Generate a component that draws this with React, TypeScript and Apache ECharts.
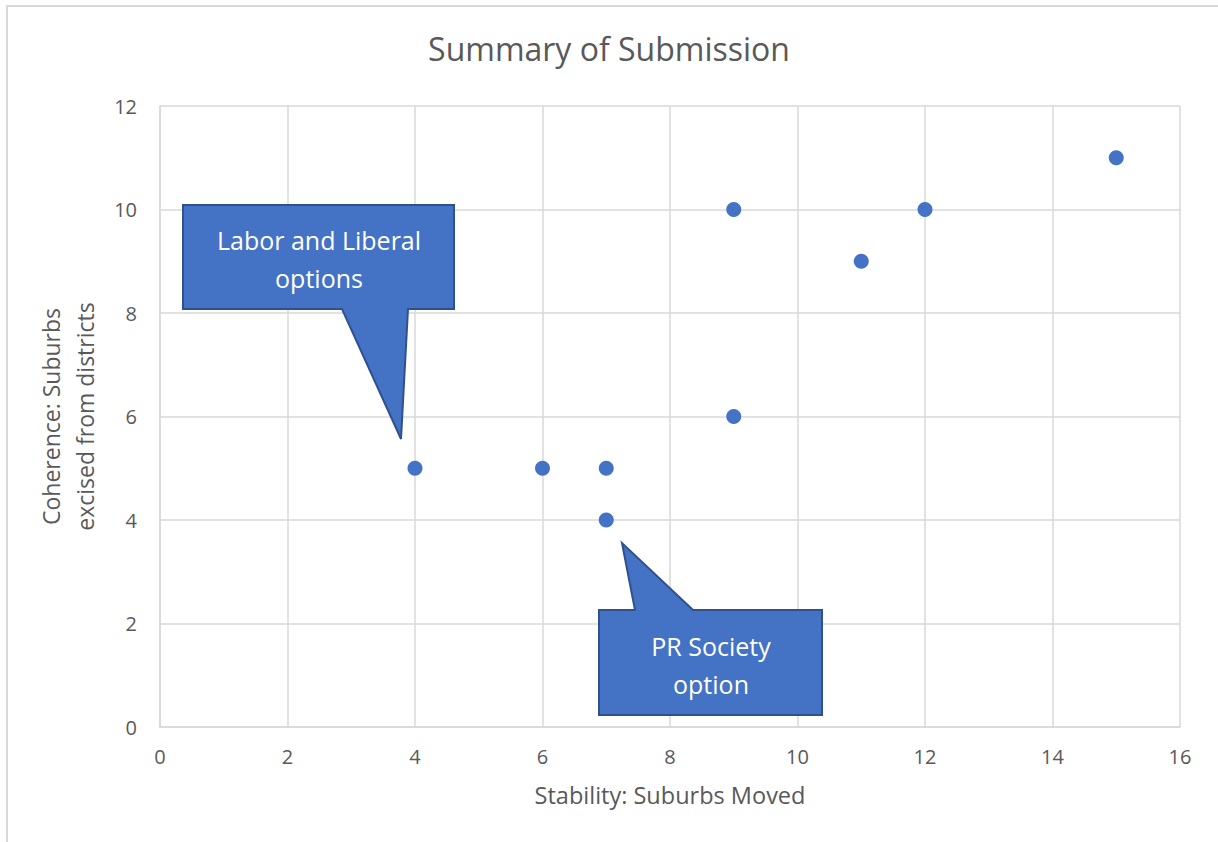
import React, { useEffect, useRef } from "react";
import * as echarts from "echarts";

const xValues = [4, 6, 7, 7, 9, 9, 11, 12, 15];
const yValues = [5, 5, 5, 4, 6, 10, 9, 10, 11];
const xTicks = { min: 0, max: 16, interval: 2 };
const yTicks = { min: 0, max: 12, interval: 2 };
const titleText = "Summary of Submission";
const xName = "Stability: Suburbs Moved";
const yName = "Coherence: Suburbs\nexcised from districts";
const callout1 = "Labor and Liberal\noptions";
const callout2 = "PR Society\noption";

const FONT = "'Open Sans', Lato, sans-serif";
const BLUE = "#4472C4";
const DARK = "#2F528F";
const GREY = "#595959";
const GRID = "#d9d9d9";

export default function App() {
  const ref = useRef<HTMLDivElement>(null);
  useEffect(() => {
    if (!ref.current) return;
    const chart = echarts.init(ref.current, undefined, { renderer: "svg" });
    const data = xValues.map((x, i) => [x, yValues[i]]);
    chart.setOption({
      animation: false,
      backgroundColor: "#ffffff",
      title: {
        text: titleText,
        left: "center",
        top: 27,
        textStyle: { fontFamily: FONT, fontSize: 32, fontWeight: "normal", color: GREY },
      },
      grid: { left: 160, right: 38, top: 106, bottom: 115 },
      xAxis: {
        type: "value",
        min: xTicks.min,
        max: xTicks.max,
        interval: xTicks.interval,
        name: xName,
        nameLocation: "middle",
        nameGap: 56,
        nameTextStyle: { fontFamily: FONT, fontSize: 23.5, color: GREY },
        axisLine: { show: true, lineStyle: { color: GRID, width: 1.5 } },
        axisTick: { show: false },
        axisLabel: { fontFamily: FONT, fontSize: 20, color: GREY, margin: 19 },
        splitLine: { show: true, lineStyle: { color: GRID, width: 1.5 } },
      },
      yAxis: {
        type: "value",
        min: yTicks.min,
        max: yTicks.max,
        interval: yTicks.interval,
        name: yName,
        nameLocation: "middle",
        nameGap: 58,
        nameMoveOverlap: false,
        nameTextStyle: { fontFamily: FONT, fontSize: 23, color: GREY, lineHeight: 34 },
        axisLine: { show: true, lineStyle: { color: GRID, width: 1.5 } },
        axisTick: { show: false },
        axisLabel: { fontFamily: FONT, fontSize: 20, color: GREY, margin: 23 },
        splitLine: { show: true, lineStyle: { color: GRID, width: 1.5 } },
      },
      series: [
        {
          type: "scatter",
          data,
          symbol: "circle",
          symbolSize: 15,
          itemStyle: { color: BLUE, opacity: 1 },
        },
      ],
      graphic: [
        {
          type: "rect",
          shape: { x: 7, y: 6, width: 1240, height: 860 },
          style: { fill: "none", stroke: GRID, lineWidth: 2 },
          silent: true,
        },
        {
          type: "polygon",
          shape: {
            points: [
              [183, 205], [454, 205], [454, 309], [408, 309], [401, 439], [342, 309], [183, 309],
            ],
          },
          style: { fill: BLUE, stroke: DARK, lineWidth: 2 },
          z: 10,
        },
        {
          type: "text",
          x: 319,
          y: 259,
          style: {
            text: callout1,
            fill: "#ffffff",
            font: `25px ${FONT}`,
            align: "center",
            verticalAlign: "middle",
            lineHeight: 38,
          },
          z: 11,
        },
        {
          type: "polygon",
          shape: {
            points: [
              [599, 610], [635, 610], [622, 543], [693, 610], [822, 610], [822, 715], [599, 715],
            ],
          },
          style: { fill: BLUE, stroke: DARK, lineWidth: 2 },
          z: 10,
        },
        {
          type: "text",
          x: 711,
          y: 665,
          style: {
            text: callout2,
            fill: "#ffffff",
            font: `25px ${FONT}`,
            align: "center",
            verticalAlign: "middle",
            lineHeight: 38,
          },
          z: 11,
        },
      ],
    });
    return () => chart.dispose();
  }, []);
  return (
    <div
      ref={ref}
      style={{ position: "fixed", left: 0, top: 0, width: 1218, height: 842 }}
    />
  );
}
